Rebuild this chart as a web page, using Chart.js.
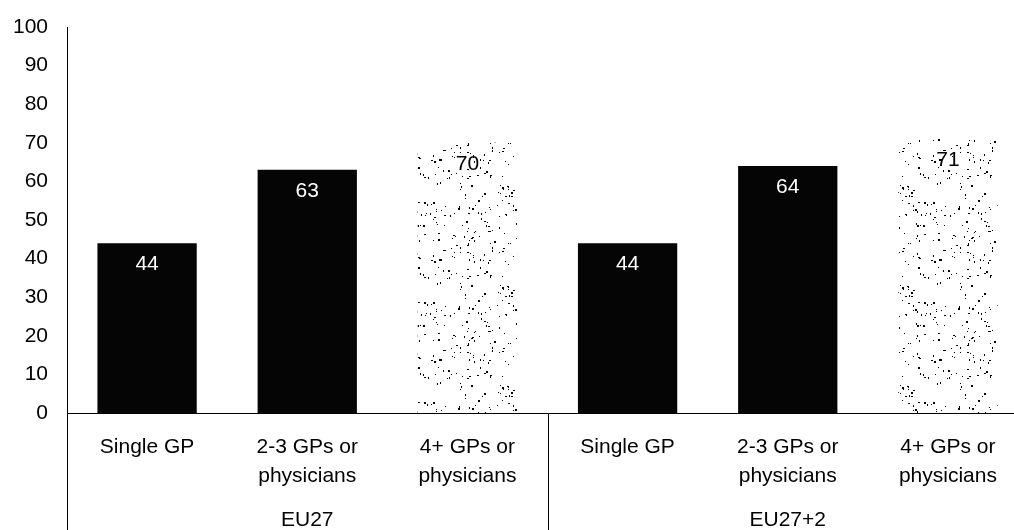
<!DOCTYPE html>
<html>
<head>
<meta charset="utf-8">
<script src="https://cdn.jsdelivr.net/npm/chart.js@4.4.1/dist/chart.umd.min.js"></script>
<style>
html,body{margin:0;padding:0;background:#fff;overflow:hidden;width:1014px;height:530px;}
#wrap{width:1028px;height:530px;position:relative;}
</style>
</head>
<body>
<div id="wrap"><canvas id="c" width="1028" height="530"></canvas></div>
<script>
const groups = ['EU27', 'EU27+2'];
const categories = [['Single GP'], ['2-3 GPs or', 'physicians'], ['4+ GPs or', 'physicians']];
const valuesEU27 = [44, 63, 70];
const valuesEU27plus2 = [44, 64, 71];
const yTicks = [0, 10, 20, 30, 40, 50, 60, 70, 80, 90, 100];

// fixed stipple texture for the "4+" bars (hash-based, purely decorative)
function makeStipple() {
  const S = 100;
  const c = document.createElement('canvas');
  c.width = S; c.height = S;
  const g = c.getContext('2d');
  g.fillStyle = '#ffffff';
  g.fillRect(0, 0, S, S);
  g.fillStyle = '#000000';
  function h(n) { n = (n ^ 61) ^ (n >>> 16); n = n + (n << 3); n = n ^ (n >>> 4); n = Math.imul(n, 0x27d4eb2d); n = n ^ (n >>> 15); return (n >>> 0); }
  for (let i = 0; i < 170; i++) {
    const x = h(i * 2 + 11) % S;
    const y = h(i * 2 + 12) % S;
    const w = (h(i + 500) % 3 === 0) ? 2 : 1;
    const ht = (h(i + 900) % 3 === 0) ? 2 : 1;
    g.fillRect(x, y, w, ht);
  }
  return g.createPattern(c, 'repeat');
}
const stipple = makeStipple();

const labels = [];
const data = [];
const colors = [];
const labelColors = [];
[valuesEU27, valuesEU27plus2].forEach(vals => {
  vals.forEach((v, i) => {
    labels.push(categories[i]);
    data.push(v);
    colors.push(i === 2 ? stipple : '#050505');
    labelColors.push(i === 2 ? '#000000' : '#ffffff');
  });
});

const FONT = "'Liberation Sans', Arial, sans-serif";

const extras = {
  id: 'extras',
  afterDatasetsDraw(chart) {
    const ctx = chart.ctx;
    const meta = chart.getDatasetMeta(0);
    ctx.save();
    ctx.font = '21px ' + FONT;
    ctx.textAlign = 'center';
    ctx.textBaseline = 'middle';
    meta.data.forEach((bar, i) => {
      ctx.fillStyle = labelColors[i];
      ctx.fillText(String(data[i]), bar.x, bar.y + 21);
    });
    ctx.restore();
  },
  afterDraw(chart) {
    const ctx = chart.ctx;
    const x = chart.scales.x;
    const area = chart.chartArea;
    const bottom = chart.height;
    ctx.save();
    ctx.strokeStyle = '#000';
    ctx.lineWidth = 1;
    const n = categories.length;
    for (let gi = 0; gi <= groups.length; gi++) {
      let px;
      if (gi === 0) px = area.left;
      else if (gi === groups.length) px = area.right;
      else px = (x.getPixelForValue(gi * n - 1) + x.getPixelForValue(gi * n)) / 2;
      px = Math.round(px) + 0.5;
      ctx.beginPath();
      ctx.moveTo(px, area.bottom);
      ctx.lineTo(px, bottom);
      ctx.stroke();
    }
    ctx.font = '21px ' + FONT;
    ctx.fillStyle = '#000';
    ctx.textAlign = 'center';
    ctx.textBaseline = 'middle';
    groups.forEach((g, gi) => {
      const cx = (x.getPixelForValue(gi * n) + x.getPixelForValue(gi * n + n - 1)) / 2;
      ctx.fillText(g, cx, 520);
    });
    ctx.restore();
  }
};

new Chart(document.getElementById('c'), {
  type: 'bar',
  data: {
    labels: labels,
    datasets: [{
      data: data,
      backgroundColor: colors,
      borderWidth: 0,
      barPercentage: 0.62,
      categoryPercentage: 1.0
    }]
  },
  options: {
    responsive: false,
    animation: false,
    devicePixelRatio: 1,
    layout: { padding: { top: 27, left: 0, right: 0, bottom: 0 } },
    plugins: { legend: { display: false }, tooltip: { enabled: false } },
    scales: {
      y: {
        min: 0, max: 100,
        afterBuildTicks(scale) { scale.ticks = yTicks.map(v => ({ value: v })); },
        afterFit(scale) { scale.width = 67; },
        grid: { display: false, drawTicks: false },
        border: { display: true, color: '#000', width: 1 },
        ticks: { color: '#000', padding: 19, font: { family: FONT, size: 21, lineHeight: 0.5 } }
      },
      x: {
        afterFit(scale) { scale.height = 117; },
        grid: { display: false, drawTicks: false },
        border: { display: true, color: '#000', width: 1 },
        ticks: { color: '#000', padding: 20, maxRotation: 0, autoSkip: false,
                 font: { family: FONT, size: 21, lineHeight: 1.38 } }
      }
    }
  },
  plugins: [extras]
});
</script>
</body>
</html>
